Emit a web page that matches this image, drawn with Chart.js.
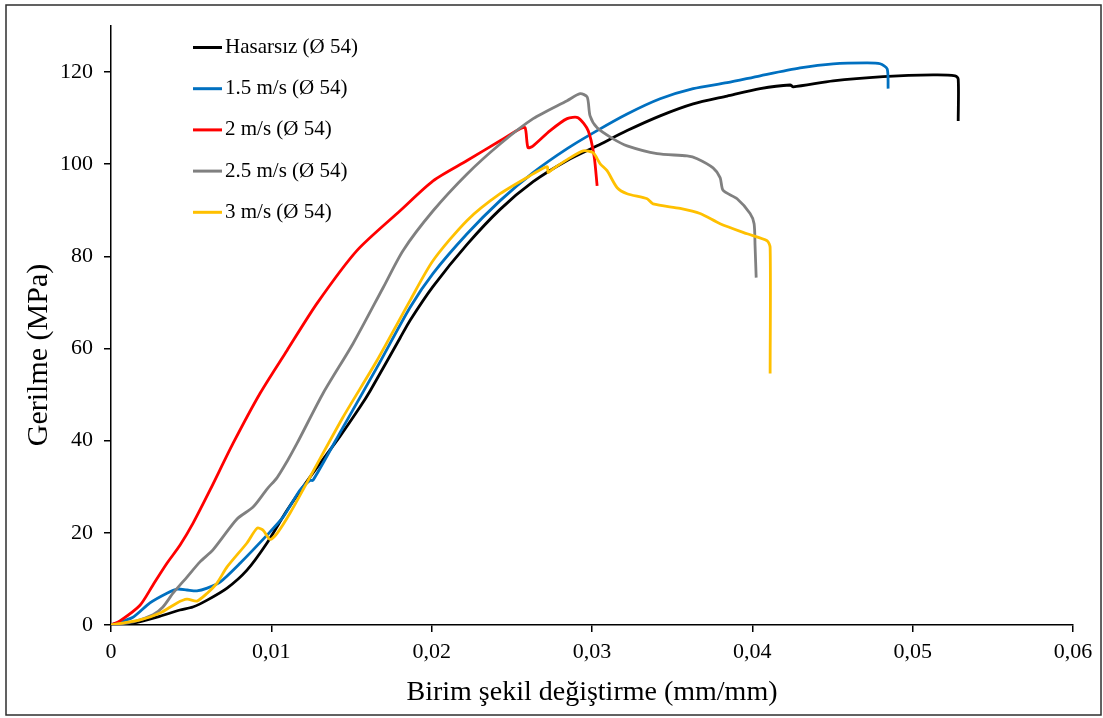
<!DOCTYPE html>
<html>
<head>
<meta charset="utf-8">
<script src="https://cdn.jsdelivr.net/npm/chart.js@4"></script>
<style>
  html, body { margin: 0; padding: 0; background: #fff; overflow: hidden; }
  canvas { display: block; }
</style>
</head>
<body>
<canvas id="c" width="1103" height="718"></canvas>
<script>
// ---- Data ----
const seriesLabels = ['Hasarsız (Ø 54)', '1.5 m/s (Ø 54)', '2 m/s (Ø 54)', '2.5 m/s (Ø 54)', '3 m/s (Ø 54)'];
const seriesColors = ['#000000', '#0070C0', '#FF0000', '#808080', '#FFC000'];

const strainHasarsiz = [0,0.00137,0.00287,0.0043,0.0051,0.006,0.00724,0.00848,0.00973,0.01098,0.01241,0.01429,0.01553,0.01616,0.01803,0.01865,0.02009,0.02221,0.02427,0.02633,0.02845,0.03032,0.03219,0.03425,0.03631,0.03843,0.04049,0.04236,0.04255,0.04504,0.04816,0.05128,0.05265,0.05284,0.05284];
const stressHasarsiz = [0,0.4,1.7,3.25,3.9,5.4,8.0,11.9,17.8,24.9,32.1,41.0,47.3,50.8,62.3,66.1,73.5,82.6,90.2,96.2,100.8,104.0,107.3,110.5,113.1,114.8,116.4,117.2,116.8,118.1,119.0,119.4,119.2,118.5,109.4];

const strain15 = [0,0.00137,0.00243,0.00349,0.00412,0.00474,0.00536,0.006,0.0068,0.00805,0.00973,0.01073,0.01179,0.01241,0.0126,0.01447,0.01659,0.01865,0.02009,0.02221,0.02427,0.02633,0.02845,0.03032,0.03219,0.03425,0.03631,0.03843,0.04049,0.04298,0.04504,0.04716,0.04797,0.04841,0.04847];
const stress15 = [0,1.7,4.8,6.9,7.8,7.6,7.4,8.0,9.3,13.4,19.5,23.4,29.3,31.4,31.4,42.9,55.9,68.9,76.3,84.9,92.1,98.2,103.4,107.3,110.9,114.2,116.4,117.7,119.2,120.9,121.8,122.0,121.8,120.7,116.4];

const strain2 = [0,0.00056,0.00181,0.00262,0.00349,0.0043,0.00512,0.00618,0.00761,0.0093,0.01098,0.01285,0.01535,0.01803,0.02009,0.02221,0.02427,0.02552,0.02583,0.02601,0.02633,0.02739,0.02845,0.02913,0.02976,0.03013,0.03032];
const stress2 = [0,0.9,4.3,8.7,13.4,17.3,22.1,29.3,39.4,50.3,59.6,69.8,81.3,89.9,96.4,100.8,105.1,107.7,107.9,103.6,104.0,107.3,109.9,110.1,107.3,101.8,95.3];

const strain25 = [0,0.00137,0.00262,0.00324,0.00387,0.00474,0.00555,0.00636,0.00786,0.00886,0.00973,0.01036,0.01098,0.0116,0.01323,0.0151,0.01697,0.01822,0.02009,0.02221,0.02427,0.02633,0.02845,0.02926,0.0297,0.02988,0.03032,0.03132,0.03219,0.03406,0.03593,0.03656,0.03755,0.03799,0.03818,0.03905,0.03986,0.04011,0.04017,0.04024];
const stress25 = [0,0.65,2.2,3.9,6.9,10.4,13.7,16.3,23.0,25.6,29.5,32.0,35.5,39.4,50.3,61.1,73.2,81.3,89.9,97.9,104.4,109.9,113.8,115.3,114.6,110.5,107.9,105.5,104.0,102.3,101.8,101.2,99.2,97.1,94.3,92.5,89.3,87.1,82.3,75.4];

const strain3 = [0,0.00181,0.00306,0.00412,0.00474,0.00536,0.006,0.00661,0.00724,0.00848,0.00911,0.00948,0.00992,0.01036,0.01117,0.01241,0.01447,0.01659,0.01865,0.02009,0.02221,0.02427,0.02633,0.0272,0.02726,0.02757,0.02845,0.02945,0.03007,0.03051,0.03094,0.03157,0.03219,0.03344,0.03381,0.0355,0.03674,0.03799,0.03968,0.04092,0.04111,0.04111];
const stress3 = [0,1.1,2.6,4.8,5.6,5.2,6.9,9.1,12.6,17.8,21.0,20.6,18.6,19.9,24.3,32.1,45.1,57.4,70.4,79.1,87.8,93.6,97.9,99.5,98.2,99.0,101.0,102.9,102.5,100.1,98.6,94.9,93.6,92.5,91.4,90.4,89.3,87.1,84.9,83.4,81.9,54.6];

const xTickValues = [0, 0.01, 0.02, 0.03, 0.04, 0.05, 0.06];
const xTickLabels = ['0', '0,01', '0,02', '0,03', '0,04', '0,05', '0,06'];
const yTickValues = [0, 20, 40, 60, 80, 100, 120];
const yTickLabels = ['0', '20', '40', '60', '80', '100', '120'];
const xTitle = 'Birim şekil değiştirme (mm/mm)';
const yTitle = 'Gerilme (MPa)';

// ---- Build datasets ----
const strains = [strainHasarsiz, strain15, strain2, strain25, strain3];
const stresses = [stressHasarsiz, stress15, stress2, stress25, stress3];
const FONT = '"Liberation Serif", "Times New Roman", serif';

const datasets = seriesLabels.map((lab, i) => ({
  label: lab,
  data: strains[i].map((x, k) => ({ x: x, y: stresses[i][k] })),
  borderColor: seriesColors[i],
  backgroundColor: seriesColors[i],
  borderWidth: 2.8,
  pointRadius: 0,
  showLine: true,
  fill: false,
  tension: 0.25,
  order: seriesLabels.length - i
}));

const framePlugin = {
  id: 'frame',
  beforeDraw(chart) {
    const ctx = chart.ctx;
    ctx.save();
    ctx.fillStyle = '#ffffff';
    ctx.fillRect(0, 0, chart.width, chart.height);
    ctx.strokeStyle = '#2e2e2e';
    ctx.lineWidth = 1.5;
    ctx.strokeRect(6, 5, 1095, 710);
    ctx.restore();
  },
  afterDraw(chart) {
    const ctx = chart.ctx;
    ctx.save();
    // Y axis title
    ctx.translate(39, 355);
    ctx.rotate(-Math.PI / 2);
    ctx.font = '30px ' + FONT;
    ctx.fillStyle = '#000';
    ctx.textAlign = 'center';
    ctx.textBaseline = 'middle';
    ctx.fillText(yTitle, 0, 0);
    ctx.restore();

    // Legend (inside plot, top-left)
    ctx.save();
    ctx.font = '21px ' + FONT;
    ctx.textAlign = 'left';
    ctx.textBaseline = 'middle';
    chart.data.datasets.forEach((ds, i) => {
      const y = 47.5 + i * 41.2;
      ctx.strokeStyle = ds.borderColor;
      ctx.lineWidth = 3;
      ctx.beginPath();
      ctx.moveTo(193, y);
      ctx.lineTo(222, y);
      ctx.stroke();
      ctx.fillStyle = '#000';
      ctx.fillText(ds.label, 225, y);
    });
    ctx.restore();
  }
};

new Chart(document.getElementById('c'), {
  type: 'scatter',
  data: { datasets: datasets },
  plugins: [framePlugin],
  options: {
    responsive: false,
    animation: false,
    devicePixelRatio: 1,
    layout: { padding: { left: 0, top: 26, right: 30, bottom: 0 } },
    plugins: { legend: { display: false }, tooltip: { enabled: false } },
    scales: {
      x: {
        type: 'linear',
        position: 'bottom',
        min: 0,
        max: 0.06,
        afterFit: s => { s.height = 93; },
        afterBuildTicks: s => { s.ticks = xTickValues.map(v => ({ value: v })); },
        ticks: {
          callback: (v, i) => xTickLabels[i],
          font: { family: FONT, size: 22 },
          color: '#000',
          padding: 7,
          maxRotation: 0,
          autoSkip: false
        },
        grid: { drawOnChartArea: false, drawTicks: true, tickLength: 7, color: '#000', lineWidth: 1.5 },
        border: { display: true, color: '#000', width: 1.5 },
        title: {
          display: true,
          text: xTitle,
          font: { family: FONT, size: 28 },
          color: '#000',
          padding: { top: 0, bottom: 9 }
        }
      },
      y: {
        type: 'linear',
        min: 0,
        max: 130,
        afterFit: s => { s.width = 111; },
        afterBuildTicks: s => { s.ticks = yTickValues.map(v => ({ value: v })); },
        ticks: {
          callback: (v, i) => yTickLabels[i],
          font: { family: FONT, size: 22 },
          color: '#000',
          padding: 11,
          autoSkip: false
        },
        grid: { drawOnChartArea: false, drawTicks: true, tickLength: 7, color: '#000', lineWidth: 1.5 },
        border: { display: true, color: '#000', width: 1.5 },
        title: { display: false }
      }
    }
  }
});
</script>
</body>
</html>
